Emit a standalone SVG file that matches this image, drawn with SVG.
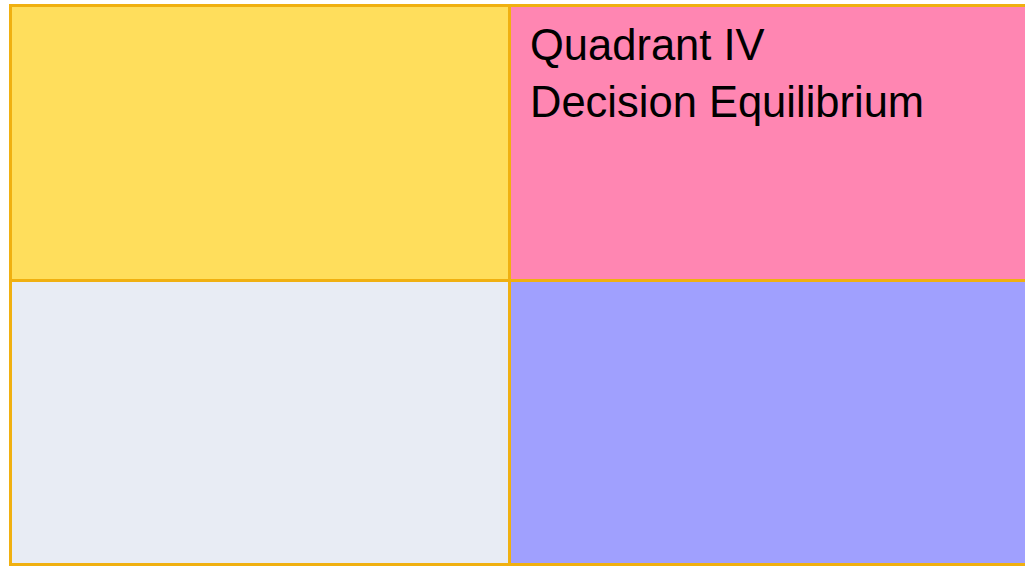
<svg xmlns="http://www.w3.org/2000/svg" width="1025" height="566" viewBox="0 0 1025 566">
<style>
.cell{stroke:#F0B010;stroke-width:3}
.lbl{font-family:"Liberation Sans",Arial,sans-serif;font-size:43.5px;fill:#000}
</style>
<rect width="1025" height="566" fill="#ffffff"/>
<g id="q-top-left"><rect class="cell" x="10.5" y="5.5" width="499" height="275" fill="#FFDE5C"/></g>
<g id="q-top-right"><rect class="cell" x="509.5" y="5.5" width="530" height="275" fill="#FF86B2"/>
<text class="lbl" x="530" y="60">Quadrant IV</text>
<text class="lbl" x="530" y="117">Decision Equilibrium</text></g>
<g id="q-bottom-left"><rect class="cell" x="10.5" y="280.5" width="499" height="284" fill="#E8ECF4"/></g>
<g id="q-bottom-right"><rect class="cell" x="509.5" y="280.5" width="530" height="284" fill="#A0A0FE"/></g>
<g id="connectors"></g>
</svg>
